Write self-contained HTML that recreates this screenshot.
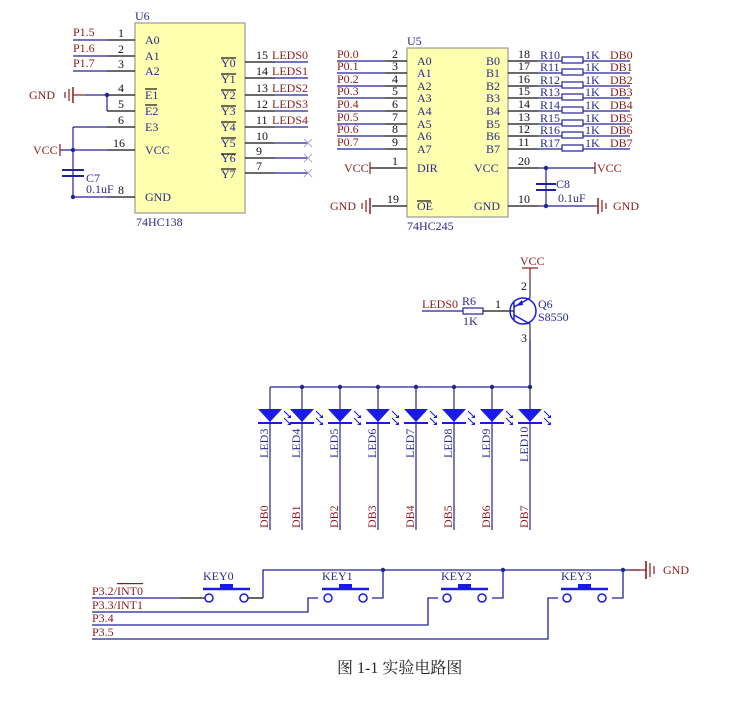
<!DOCTYPE html>
<html><head><meta charset="utf-8"><style>
body{margin:0;background:#fff;width:747px;height:703px;overflow:hidden}
svg{display:block}
text{font-family:"Liberation Serif",serif;font-size:12px}
.b{fill:#2a2a8a}.r{fill:#8b1a1a}.k{fill:#111}
</style></head><body>
<svg width="747" height="703" viewBox="0 0 747 703" xmlns="http://www.w3.org/2000/svg">
<g stroke-width="1.2" fill="none">
<!-- U6 -->
<rect x="135" y="23" width="110" height="190" fill="#ffffb0" stroke="#999"/>
<g stroke="#22229a">
<line x1="73" y1="40" x2="107" y2="40"/><line x1="73" y1="56" x2="107" y2="56"/><line x1="73" y1="71" x2="107" y2="71"/>
<line x1="85" y1="95" x2="107" y2="95"/><line x1="107" y1="95" x2="107" y2="111"/>
<line x1="73" y1="127" x2="107" y2="127"/><line x1="73" y1="127" x2="73" y2="197"/>
<line x1="62" y1="150" x2="107" y2="150"/><line x1="73" y1="197" x2="107" y2="197"/>
<line x1="62" y1="170" x2="84" y2="170" stroke-width="2"/><line x1="62" y1="176" x2="84" y2="176" stroke-width="2"/>
<line x1="275" y1="62" x2="308" y2="62"/><line x1="275" y1="78" x2="308" y2="78"/><line x1="275" y1="95" x2="308" y2="95"/><line x1="275" y1="111" x2="308" y2="111"/><line x1="275" y1="127" x2="308" y2="127"/><line x1="275" y1="143" x2="308" y2="143"/><line x1="275" y1="158" x2="308" y2="158"/><line x1="275" y1="173" x2="308" y2="173"/>
</g>
<g stroke="#111">
<line x1="107" y1="40" x2="135" y2="40"/><line x1="107" y1="56" x2="135" y2="56"/><line x1="107" y1="71" x2="135" y2="71"/><line x1="107" y1="95" x2="135" y2="95"/><line x1="107" y1="111" x2="135" y2="111"/><line x1="107" y1="127" x2="135" y2="127"/><line x1="107" y1="150" x2="135" y2="150"/><line x1="107" y1="197" x2="135" y2="197"/>
<line x1="245" y1="62" x2="275" y2="62"/><line x1="245" y1="78" x2="275" y2="78"/><line x1="245" y1="95" x2="275" y2="95"/><line x1="245" y1="111" x2="275" y2="111"/><line x1="245" y1="127" x2="275" y2="127"/><line x1="245" y1="143" x2="275" y2="143"/><line x1="245" y1="158" x2="275" y2="158"/><line x1="245" y1="173" x2="275" y2="173"/>
<line x1="221" y1="58" x2="236" y2="58"/><line x1="221" y1="74" x2="236" y2="74"/><line x1="221" y1="90" x2="236" y2="90"/><line x1="221" y1="106" x2="236" y2="106"/><line x1="221" y1="122" x2="236" y2="122"/><line x1="221" y1="138" x2="236" y2="138"/><line x1="221" y1="154" x2="236" y2="154"/><line x1="221" y1="169" x2="236" y2="169"/>
<line x1="145" y1="89" x2="157" y2="89"/><line x1="145" y1="105" x2="157" y2="105"/>
</g>
<g stroke="#8b1a1a">
<line x1="73" y1="95" x2="85" y2="95"/><line x1="73" y1="87" x2="73" y2="103" stroke-width="1.5"/><line x1="69" y1="89" x2="69" y2="101"/><line x1="65" y1="92" x2="65" y2="98"/>
<line x1="60" y1="150" x2="62" y2="150"/><line x1="60" y1="144" x2="60" y2="156"/>
<line x1="73" y1="40" x2="100" y2="40" stroke="none"/>
</g>
<g stroke="#aac" stroke-width="1"><path d="M304 139l8 8M312 139l-8 8M304 154l8 8M312 154l-8 8M304 169l8 8M312 169l-8 8"/></g>
<g fill="#22229a"><circle cx="107" cy="95" r="2.2"/><circle cx="73" cy="150" r="2.2"/><circle cx="73" cy="197" r="2.2"/></g>
<!-- U5 -->
<rect x="407" y="48" width="101" height="169" fill="#ffffb0" stroke="#999"/>
<g stroke="#22229a">
<line x1="337" y1="61" x2="385" y2="61"/><line x1="337" y1="73" x2="385" y2="73"/><line x1="337" y1="86" x2="385" y2="86"/><line x1="337" y1="98" x2="385" y2="98"/><line x1="337" y1="111" x2="385" y2="111"/><line x1="337" y1="124" x2="385" y2="124"/><line x1="337" y1="136" x2="385" y2="136"/><line x1="337" y1="149" x2="385" y2="149"/>
<line x1="538" y1="61" x2="630" y2="61"/><line x1="538" y1="73" x2="630" y2="73"/><line x1="538" y1="86" x2="630" y2="86"/><line x1="538" y1="98" x2="630" y2="98"/><line x1="538" y1="111" x2="630" y2="111"/><line x1="538" y1="124" x2="630" y2="124"/><line x1="538" y1="136" x2="630" y2="136"/><line x1="538" y1="149" x2="630" y2="149"/>
<line x1="538" y1="168" x2="595" y2="168"/><line x1="538" y1="206" x2="595" y2="206"/><line x1="546" y1="168" x2="546" y2="206"/>
<line x1="536" y1="184" x2="556" y2="184" stroke-width="2"/><line x1="536" y1="190" x2="556" y2="190" stroke-width="2"/>
</g>
<g stroke="#22229a" fill="#fff"><rect x="562" y="57" width="21" height="6"/><rect x="562" y="69" width="21" height="6"/><rect x="562" y="82" width="21" height="6"/><rect x="562" y="94" width="21" height="6"/><rect x="562" y="107" width="21" height="6"/><rect x="562" y="120" width="21" height="6"/><rect x="562" y="132" width="21" height="6"/><rect x="562" y="145" width="21" height="6"/></g>
<g stroke="#111">
<line x1="385" y1="61" x2="407" y2="61"/><line x1="385" y1="73" x2="407" y2="73"/><line x1="385" y1="86" x2="407" y2="86"/><line x1="385" y1="98" x2="407" y2="98"/><line x1="385" y1="111" x2="407" y2="111"/><line x1="385" y1="124" x2="407" y2="124"/><line x1="385" y1="136" x2="407" y2="136"/><line x1="385" y1="149" x2="407" y2="149"/>
<line x1="508" y1="61" x2="538" y2="61"/><line x1="508" y1="73" x2="538" y2="73"/><line x1="508" y1="86" x2="538" y2="86"/><line x1="508" y1="98" x2="538" y2="98"/><line x1="508" y1="111" x2="538" y2="111"/><line x1="508" y1="124" x2="538" y2="124"/><line x1="508" y1="136" x2="538" y2="136"/><line x1="508" y1="149" x2="538" y2="149"/>
<line x1="370" y1="168" x2="407" y2="168"/><line x1="372" y1="206" x2="407" y2="206"/><line x1="508" y1="168" x2="538" y2="168"/><line x1="508" y1="206" x2="538" y2="206"/>
<line x1="417" y1="201" x2="431" y2="201"/>
</g>
<g stroke="#8b1a1a">
<line x1="370" y1="162" x2="370" y2="174"/><line x1="595" y1="162" x2="595" y2="174"/>
<line x1="370" y1="198" x2="370" y2="214" stroke-width="1.5"/><line x1="366" y1="200" x2="366" y2="212"/><line x1="362" y1="203" x2="362" y2="209"/>
<line x1="595" y1="206" x2="598" y2="206"/><line x1="598" y1="198" x2="598" y2="214" stroke-width="1.5"/><line x1="602" y1="200" x2="602" y2="212"/><line x1="606" y1="203" x2="606" y2="209"/>
</g>
<g fill="#22229a"><circle cx="546" cy="168" r="2.2"/><circle cx="546" cy="206" r="2.2"/></g>
<!-- transistor -->
<g stroke="#8b1a1a"><line x1="530" y1="268" x2="530" y2="280"/><line x1="522" y1="268" x2="538" y2="268"/><line x1="422" y1="311" x2="463" y2="311" stroke="#22229a"/></g>
<rect x="463" y="308" width="20" height="6" stroke="#22229a" fill="#fff"/>
<line x1="483" y1="311" x2="514" y2="311" stroke="#111"/>
<g stroke="#1a1ae0" stroke-width="1.5"><circle cx="523" cy="311" r="13"/><line x1="514" y1="302" x2="514" y2="320"/><line x1="514" y1="307" x2="530" y2="298"/><line x1="514" y1="315" x2="530" y2="324"/></g>
<path d="M516 306l6-6 1 5z" fill="#1a1ae0"/>
<line x1="530" y1="280" x2="530" y2="298" stroke="#333"/>
<line x1="530" y1="324" x2="530" y2="387" stroke="#333"/>
<line x1="530" y1="340" x2="530" y2="387" stroke="#22229a"/>
<line x1="270" y1="387" x2="530" y2="387" stroke="#22229a"/>
<g fill="#22229a"><circle cx="302" cy="387" r="2.2"/><circle cx="340" cy="387" r="2.2"/><circle cx="378" cy="387" r="2.2"/><circle cx="416" cy="387" r="2.2"/><circle cx="454" cy="387" r="2.2"/><circle cx="492" cy="387" r="2.2"/><circle cx="530" cy="387" r="2.2"/></g>
</g>
<!-- LEDs -->
<g id="leds">
<g transform="translate(270,0)"><line x1="0" y1="387" x2="0" y2="530" stroke="#22229a" stroke-width="1.2"/><line x1="0" y1="387" x2="0" y2="400" stroke="#333"/><path d="M-12 409h24l-12 13z" fill="#1a1ae0"/><line x1="-12" y1="423" x2="12" y2="423" stroke="#1a1ae0" stroke-width="2"/><path d="M14 411l6 6M14 418l6 6" stroke="#1a1ae0"/><path d="M21 418l-4 0 4-3zM21 425l-4 0 4-3z" fill="#1a1ae0"/></g>
</g>
<use href="#leds" x="32"/><use href="#leds" x="70"/><use href="#leds" x="108"/><use href="#leds" x="146"/><use href="#leds" x="184"/><use href="#leds" x="222"/><use href="#leds" x="260"/>
<!-- keys -->
<g stroke="#22229a" stroke-width="1.3" fill="none">
<polyline points="263,598 263,570 640,570"/>
<line x1="92" y1="598" x2="180" y2="598"/>
<polyline points="92,612 308,612 308,598 318,598"/>
<polyline points="92,625 428,625 428,598 438,598"/>
<polyline points="92,639 548,639 548,598 558,598"/>
<polyline points="372,598 383,598 383,570"/><polyline points="492,598 503,598 503,570"/><polyline points="612,598 623,598 623,570"/>
</g>
<g stroke="#111" stroke-width="1.3"><line x1="180" y1="598" x2="205" y2="598"/><line x1="248" y1="598" x2="263" y2="598"/></g>
<g id="key" stroke="#1a1ae0" stroke-width="1.5" fill="#fff"><circle cx="209" cy="598" r="4"/><circle cx="244" cy="598" r="4"/><line x1="203" y1="589" x2="250" y2="589" stroke-width="2.5"/><rect x="220" y="584" width="13" height="4" fill="#1a1ae0" stroke="none"/></g>
<use href="#key" x="119"/><use href="#key" x="238"/><use href="#key" x="358"/>
<g fill="#22229a"><circle cx="383" cy="570" r="2.2"/><circle cx="503" cy="570" r="2.2"/><circle cx="623" cy="570" r="2.2"/></g>
<g stroke="#8b1a1a" stroke-width="1.2"><line x1="630" y1="570" x2="646" y2="570"/><line x1="646" y1="561" x2="646" y2="579" stroke-width="1.6"/><line x1="650" y1="563" x2="650" y2="577"/><line x1="654" y1="566" x2="654" y2="574"/></g>
<!-- text -->
<g class="b">
<text x="135" y="20">U6</text><text x="145" y="44">A0</text><text x="145" y="60">A1</text><text x="145" y="75">A2</text><text x="145" y="99">E1</text><text x="145" y="115">E2</text><text x="145" y="131">E3</text><text x="145" y="154">VCC</text><text x="145" y="201">GND</text>
<text x="136" y="226">74HC138</text>
<text x="221" y="67">Y0</text><text x="221" y="83">Y1</text><text x="221" y="99">Y2</text><text x="221" y="115">Y3</text><text x="221" y="131">Y4</text><text x="221" y="147">Y5</text><text x="221" y="162">Y6</text><text x="221" y="178">Y7</text>
<text x="86" y="182">C7</text><text x="86" y="193">0.1uF</text>
<text x="407" y="45">U5</text><text x="407" y="230">74HC245</text>
<text x="417" y="65">A0</text><text x="417" y="77">A1</text><text x="417" y="90">A2</text><text x="417" y="102">A3</text><text x="417" y="115">A4</text><text x="417" y="128">A5</text><text x="417" y="140">A6</text><text x="417" y="153">A7</text>
<text x="486" y="65">B0</text><text x="486" y="77">B1</text><text x="486" y="90">B2</text><text x="486" y="102">B3</text><text x="486" y="115">B4</text><text x="486" y="128">B5</text><text x="486" y="140">B6</text><text x="486" y="153">B7</text>
<text x="417" y="172">DIR</text><text x="474" y="172">VCC</text><text x="417" y="210">OE</text><text x="474" y="210">GND</text>
<text x="540" y="59">R10</text><text x="540" y="71">R11</text><text x="540" y="84">R12</text><text x="540" y="96">R13</text><text x="540" y="109">R14</text><text x="540" y="122">R15</text><text x="540" y="134">R16</text><text x="540" y="147">R17</text>
<text x="585" y="59">1K</text><text x="585" y="71">1K</text><text x="585" y="84">1K</text><text x="585" y="96">1K</text><text x="585" y="109">1K</text><text x="585" y="122">1K</text><text x="585" y="134">1K</text><text x="585" y="147">1K</text>
<text x="556" y="188">C8</text><text x="558" y="202">0.1uF</text>
<text x="462" y="305">R6</text><text x="463" y="325">1K</text><text x="538" y="308">Q6</text><text x="538" y="321">S8550</text>
<text x="203" y="580" font-size="11">KEY0</text><text x="322" y="580" font-size="11">KEY1</text><text x="441" y="580" font-size="11">KEY2</text><text x="561" y="580" font-size="11">KEY3</text>
</g>
<g class="k" font-size="11">
<text x="118" y="37">1</text><text x="118" y="53">2</text><text x="118" y="68">3</text><text x="118" y="92">4</text><text x="118" y="108">5</text><text x="118" y="124">6</text><text x="113" y="147">16</text><text x="118" y="194">8</text>
<text x="256" y="59">15</text><text x="256" y="75">14</text><text x="256" y="92">13</text><text x="256" y="108">12</text><text x="256" y="124">11</text><text x="256" y="140">10</text><text x="256" y="155">9</text><text x="256" y="170">7</text>
<text x="392" y="58">2</text><text x="392" y="70">3</text><text x="392" y="83">4</text><text x="392" y="95">5</text><text x="392" y="108">6</text><text x="392" y="121">7</text><text x="392" y="133">8</text><text x="392" y="146">9</text>
<text x="518" y="58">18</text><text x="518" y="70">17</text><text x="518" y="83">16</text><text x="518" y="95">15</text><text x="518" y="108">14</text><text x="518" y="121">13</text><text x="518" y="133">12</text><text x="518" y="146">11</text>
<text x="392" y="165">1</text><text x="387" y="203">19</text><text x="518" y="165">20</text><text x="518" y="203">10</text>
<text x="495" y="308">1</text><text x="521" y="290" font-size="10">2</text><text x="521" y="342" font-size="10">3</text>
</g>
<g class="r">
<text x="73" y="36">P1.5</text><text x="73" y="52">P1.6</text><text x="73" y="67">P1.7</text>
<text x="29" y="99">GND</text><text x="33" y="154">VCC</text>
<text x="272" y="59">LEDS0</text><text x="272" y="75">LEDS1</text><text x="272" y="92">LEDS2</text><text x="272" y="108">LEDS3</text><text x="272" y="124">LEDS4</text>
<text x="337" y="58">P0.0</text><text x="337" y="70">P0.1</text><text x="337" y="83">P0.2</text><text x="337" y="95">P0.3</text><text x="337" y="108">P0.4</text><text x="337" y="121">P0.5</text><text x="337" y="133">P0.6</text><text x="337" y="146">P0.7</text>
<text x="610" y="59">DB0</text><text x="610" y="71">DB1</text><text x="610" y="84">DB2</text><text x="610" y="96">DB3</text><text x="610" y="109">DB4</text><text x="610" y="122">DB5</text><text x="610" y="134">DB6</text><text x="610" y="147">DB7</text>
<text x="344" y="172">VCC</text><text x="597" y="172">VCC</text><text x="330" y="210">GND</text><text x="613" y="210">GND</text>
<text x="422" y="308">LEDS0</text><text x="520" y="265">VCC</text>
<text x="92" y="595" font-size="11">P3.2/<tspan text-decoration="overline">INT0</tspan></text>
<text x="92" y="609" font-size="11">P3.3/INT1</text><text x="92" y="622" font-size="11">P3.4</text><text x="92" y="636" font-size="11">P3.5</text>
<text x="663" y="574" font-size="11">GND</text>
</g>
<g class="b" font-size="11">
<text transform="translate(268,458) rotate(-90)">LED3</text><text transform="translate(300,458) rotate(-90)">LED4</text><text transform="translate(338,458) rotate(-90)">LED5</text><text transform="translate(376,458) rotate(-90)">LED6</text><text transform="translate(414,458) rotate(-90)">LED7</text><text transform="translate(452,458) rotate(-90)">LED8</text><text transform="translate(490,458) rotate(-90)">LED9</text><text transform="translate(528,462) rotate(-90)">LED10</text>
</g>
<g class="r" font-size="11">
<text transform="translate(268,528) rotate(-90)">DB0</text><text transform="translate(300,528) rotate(-90)">DB1</text><text transform="translate(338,528) rotate(-90)">DB2</text><text transform="translate(376,528) rotate(-90)">DB3</text><text transform="translate(414,528) rotate(-90)">DB4</text><text transform="translate(452,528) rotate(-90)">DB5</text><text transform="translate(490,528) rotate(-90)">DB6</text><text transform="translate(528,528) rotate(-90)">DB7</text>
</g>
<text x="337" y="673" style="font-family:'Liberation Serif','Noto Serif CJK SC',serif;font-size:16px" fill="#222">图 1-1  实验电路图</text>
</svg>
</body></html>
